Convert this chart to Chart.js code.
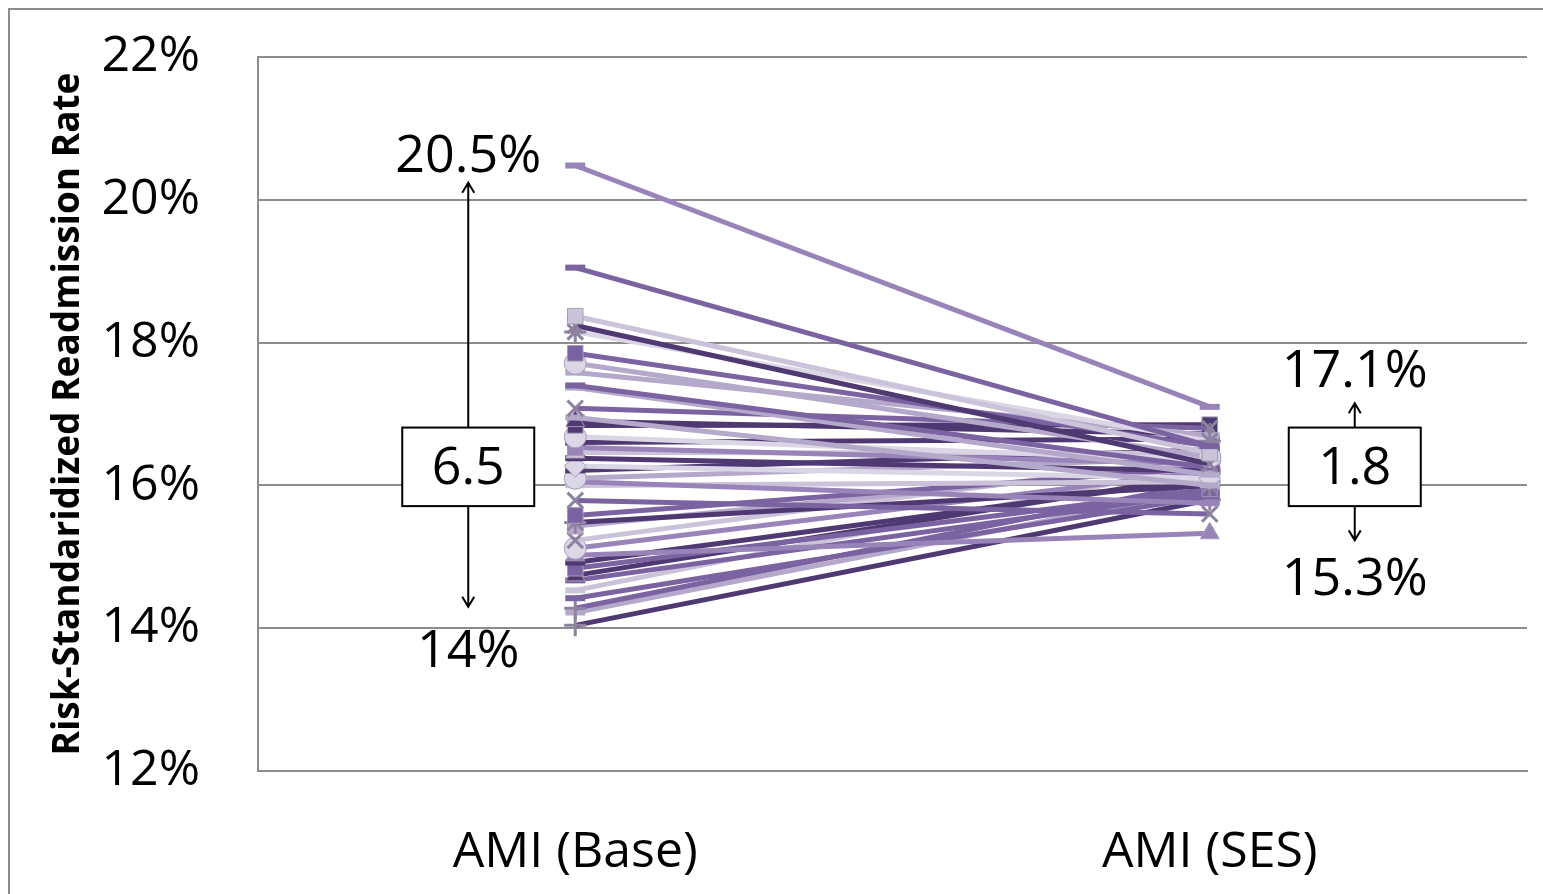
<!DOCTYPE html>
<html lang="en">
<head>
    <meta charset="UTF-8">
    <title>AMI Readmission Rate</title>
    <style>
        html, body {
            margin: 0;
            background: #fff;
            overflow: hidden;
        }
        #chart {
            display: block;
        }
    </style>
</head>
<body>
    <canvas id="chart" width="1543" height="894"></canvas>
    <script src="https://cdn.jsdelivr.net/npm/chart.js"></script>
    <script>
        const categories = ['AMI (Base)', 'AMI (SES)'];
        const yTicks = [12, 14, 16, 18, 20, 22];

        // one entry per hospital: base-model rate and SES-adjusted rate (%)
        const baseRates = [20.48, 19.05, 18.37, 18.24, 18.15, 17.85, 17.71, 17.58, 17.40, 17.37,
                           17.08, 16.95, 16.90, 16.84, 16.68, 16.60, 16.53, 16.46, 16.38, 16.27,
                           16.21, 16.10, 16.05, 16.00, 15.79, 15.58, 15.48, 15.43, 15.23, 15.12,
                           15.02, 14.92, 14.84, 14.74, 14.67, 14.53, 14.42, 14.28, 14.22, 14.04];
        const sesRates  = [17.10, 16.55, 16.45, 16.30, 16.62, 16.55, 16.40, 16.70, 16.25, 16.15,
                           16.80, 16.00, 16.72, 16.85, 16.35, 16.65, 16.30, 16.45, 16.20, 16.10,
                           16.50, 16.38, 15.75, 16.05, 15.60, 16.25, 16.00, 16.30, 16.40, 16.20,
                           15.33, 16.10, 15.95, 16.15, 15.90, 16.30, 15.85, 16.05, 15.95, 15.80];

        // range annotations
        const spreadValues = ['6.5', '1.8'];
        const spreadHigh = ['20.5%', '17.1%'];
        const spreadLow = ['14%', '15.3%'];

        const shades = {
            dk: '#4e3972',
            md: '#7b62a1',
            mm: '#9884b8',
            lt: '#b4a8cb',
            vl: '#cbc3da',
            xl: '#dbd6e5'
        };
        const seriesShade = ['mm', 'md', 'vl', 'dk', 'xl', 'md', 'lt', 'lt', 'md', 'lt',
                             'md', 'lt', 'dk', 'dk', 'xl', 'dk', 'mm', 'vl', 'dk', 'xl',
                             'dk', 'lt', 'mm', 'vl', 'md', 'md', 'dk', 'lt', 'vl', 'mm',
                             'mm', 'dk', 'md', 'dk', 'md', 'vl', 'md', 'md', 'lt', 'dk'];
        const seriesMarker = ['line', 'line', 'rect', 'crossRot', 'star', 'rect', 'circle', 'line', 'line', 'line',
                              'crossRot', 'line', 'triangle', 'rect', 'circle', 'line', 'rect', 'triangle', 'line', 'rectRot',
                              'line', 'circle', 'line', 'line', 'crossRot', 'rect', 'star', 'rect', 'crossRot', 'circle',
                              'triangle', 'line', 'rect', 'triangle', 'line', 'line', 'line', 'cross', 'line', 'cross'];

        const FONT = "'Open Sans', 'DejaVu Sans', sans-serif";

        const datasets = baseRates.map((b, i) => {
            const col = shades[seriesShade[i]];
            const mk = seriesMarker[i];
            const isLine = mk === 'line';
            const isStroke = mk === 'cross' || mk === 'crossRot' || mk === 'star';
            return {
                label: 'Hospital ' + (i + 1),
                data: [b, sesRates[i]],
                borderColor: col,
                borderWidth: 5,
                tension: 0,
                pointStyle: mk,
                pointRadius: isLine ? 10 : 11,
                pointBorderWidth: isLine ? 6 : (isStroke ? 3 : 1),
                pointBackgroundColor: mk === 'circle' || mk === 'rectRot' ? '#dcd7e7' : col,
                pointBorderColor: isLine ? col : (isStroke ? '#8d83a0' : '#a59cb6')
            };
        });

        // outer frame of the picture (top and left edges only)
        const framePlugin = {
            id: 'frame',
            afterDraw(chart) {
                const {ctx, width, height} = chart;
                ctx.save();
                ctx.fillStyle = '#fff';
                ctx.fillRect(1530, 11, width - 1530, chart.chartArea.top - 14);
                ctx.fillStyle = '#8c8c8c';
                ctx.fillRect(8, 8, width - 8, 2);
                ctx.fillRect(8, 8, 2, height - 8);
                ctx.restore();
            }
        };

        const annotationPlugin = {
            id: 'spreads',
            afterDatasetsDraw(chart) {
                const {ctx} = chart;
                const x = chart.scales.x, y = chart.scales.y;
                const centers = [x.getPixelForValue(0) - 107, x.getPixelForValue(1) + 145];
                const boxTop = y.getPixelForValue(16.81);
                const boxBot = y.getPixelForValue(15.71);
                const arrowUp = [y.getPixelForValue(20.24), y.getPixelForValue(17.15)];
                const arrowDown = [y.getPixelForValue(14.3), y.getPixelForValue(15.23)];
                const highY = [y.getPixelForValue(20.6), y.getPixelForValue(17.58)];
                const lowY = [y.getPixelForValue(13.66), y.getPixelForValue(14.67)];

                ctx.save();
                centers.forEach((cx, i) => {
                    ctx.strokeStyle = '#000';
                    ctx.fillStyle = '#000';
                    ctx.lineWidth = 2;
                    // arrows
                    ctx.beginPath();
                    ctx.moveTo(cx, boxTop);
                    ctx.lineTo(cx, arrowUp[i]);
                    ctx.moveTo(cx - 6, arrowUp[i] + 10);
                    ctx.lineTo(cx, arrowUp[i]);
                    ctx.lineTo(cx + 6, arrowUp[i] + 10);
                    ctx.moveTo(cx, boxBot);
                    ctx.lineTo(cx, arrowDown[i]);
                    ctx.moveTo(cx - 6, arrowDown[i] - 10);
                    ctx.lineTo(cx, arrowDown[i]);
                    ctx.lineTo(cx + 6, arrowDown[i] - 10);
                    ctx.stroke();
                    // box
                    ctx.fillStyle = '#fff';
                    ctx.fillRect(cx - 66, boxTop, 132, boxBot - boxTop);
                    ctx.strokeRect(cx - 66, boxTop, 132, boxBot - boxTop);
                    ctx.fillStyle = '#000';
                    ctx.font = '52px ' + FONT;
                    ctx.textAlign = 'center';
                    ctx.textBaseline = 'middle';
                    ctx.fillText(spreadValues[i], cx, (boxTop + boxBot) / 2 + 2);
                    ctx.fillText(spreadHigh[i], cx, highY[i]);
                    ctx.fillText(spreadLow[i], cx, lowY[i]);
                });
                ctx.restore();
            }
        };

        new Chart(document.getElementById('chart'), {
            type: 'line',
            data: { labels: categories, datasets: datasets },
            options: {
                responsive: false,
                animation: false,
                layout: { padding: { top: 57, right: 16, bottom: 0, left: 0 } },
                plugins: {
                    legend: { display: false },
                    tooltip: { enabled: false }
                },
                scales: {
                    x: {
                        offset: true,
                        grid: { display: false },
                        border: { display: true, color: '#8c8c8c', width: 2 },
                        ticks: { color: '#000', font: { family: FONT, size: 50 }, padding: 44 },
                        afterFit(s) { s.height = 123; }
                    },
                    y: {
                        min: 12,
                        max: 22,
                        afterBuildTicks(s) { s.ticks = yTicks.map(v => ({ value: v })); },
                        grid: {
                            color: '#8c8c8c',
                            lineWidth: 2,
                            drawTicks: true,
                            tickLength: 58,
                            tickColor: 'rgba(0,0,0,0)'
                        },
                        border: { display: true, color: '#8c8c8c', width: 2 },
                        ticks: {
                            color: '#000',
                            font: { family: FONT, size: 50 },
                            padding: 0,
                            callback: v => v + '%'
                        },
                        title: {
                            display: true,
                            text: 'Risk-Standaridized Readmission Rate',
                            color: '#000',
                            font: { family: FONT, size: 37, weight: 'bold' },
                            padding: { top: 46, bottom: 0 }
                        },
                        afterFit(s) { s.width = 258; }
                    }
                }
            },
            plugins: [framePlugin, annotationPlugin]
        });
    </script>
</body>
</html>
